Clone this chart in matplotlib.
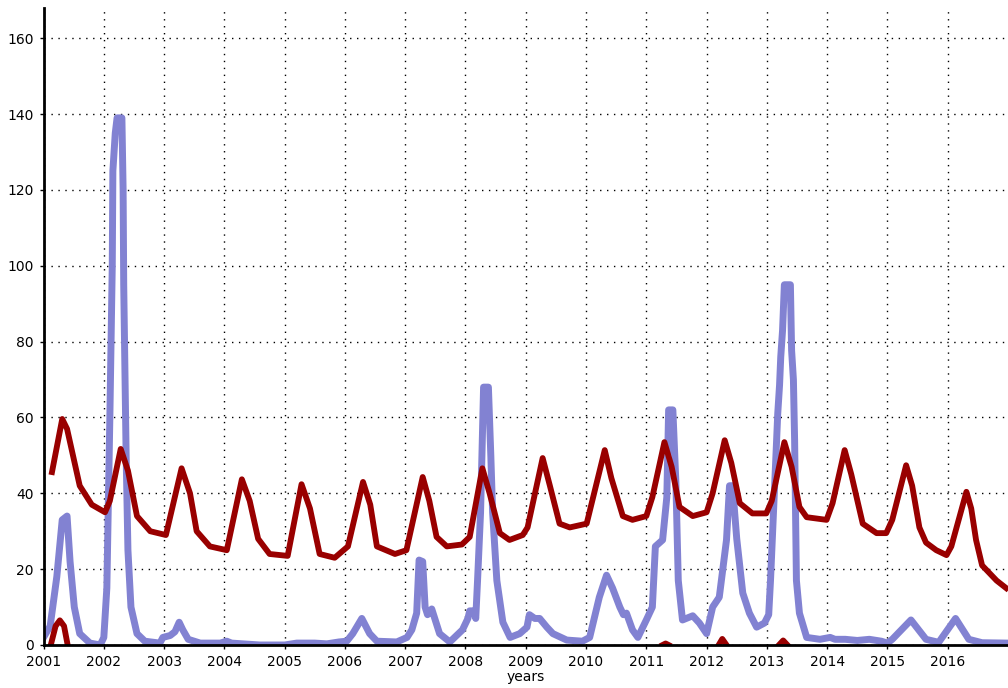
import numpy as np
import matplotlib.pyplot as plt

# blue series (year, value)
blue_x = [2001.0, 2001.11, 2001.22, 2001.31, 2001.39, 2001.44, 2001.51, 2001.6, 2001.77, 2001.94,
          2002.0, 2002.05, 2002.1, 2002.14, 2002.15, 2002.17, 2002.19, 2002.22, 2002.3, 2002.32,
          2002.33, 2002.37, 2002.4, 2002.45, 2002.55, 2002.68, 2002.93, 2002.98, 2003.1, 2003.18,
          2003.25, 2003.31, 2003.4, 2003.6, 2003.93, 2004.04, 2004.12, 2004.59, 2005.0, 2005.2,
          2005.5, 2005.7, 2005.9, 2006.03, 2006.13, 2006.28, 2006.41, 2006.53, 2006.86, 2007.03,
          2007.11, 2007.19, 2007.23, 2007.29, 2007.33, 2007.37, 2007.44, 2007.49, 2007.57, 2007.74,
          2007.95, 2008.04, 2008.07, 2008.14, 2008.17, 2008.2, 2008.25, 2008.28, 2008.3, 2008.38,
          2008.42, 2008.45, 2008.52, 2008.62, 2008.74, 2008.9, 2009.02, 2009.06, 2009.15, 2009.23,
          2009.35, 2009.45, 2009.68, 2009.94, 2010.06, 2010.22, 2010.34, 2010.44, 2010.56, 2010.62,
          2010.67, 2010.77, 2010.86, 2011.0, 2011.1, 2011.15, 2011.27, 2011.34, 2011.37, 2011.44,
          2011.49, 2011.53, 2011.6, 2011.77, 2011.88, 2012.0, 2012.1, 2012.21, 2012.33, 2012.38,
          2012.43, 2012.5, 2012.6, 2012.71, 2012.83, 2012.96, 2013.03, 2013.06, 2013.11, 2013.16,
          2013.18, 2013.21, 2013.23, 2013.26, 2013.28, 2013.29, 2013.39, 2013.41, 2013.44, 2013.46,
          2013.49, 2013.54, 2013.66, 2013.88, 2014.05, 2014.13, 2014.3, 2014.5, 2014.7, 2014.9,
          2015.0, 2015.08, 2015.39, 2015.64, 2015.85, 2016.13, 2016.35, 2016.57, 2017.0]
blue_y = [2, 5, 18, 33, 34, 22, 10, 3, 0.5, 0,
          2, 15, 60, 100, 125, 130, 135, 139, 139, 120,
          95, 50, 25, 10, 3, 1, 0.5, 2, 2.5, 3.5,
          6, 4, 1.5, 0.5, 0.5, 1, 0.5, 0, 0, 0.5,
          0.5, 0.3, 0.8, 1, 3, 7, 3, 1, 0.8, 2,
          4, 8.4, 22.4, 22, 10, 8, 9.5, 7, 3, 0.8,
          4, 7, 9, 9, 7, 17, 35, 55, 68, 68,
          50, 35, 17, 6, 2, 3, 4.7, 8, 7, 7,
          4.7, 3, 1.3, 1, 2, 12.6, 18.4, 15, 10, 8,
          8.4, 4, 2, 6.6, 10, 26, 27.7, 39, 62, 62,
          43, 17, 6.6, 7.7, 5.8, 3, 10, 12.6, 27.7, 42,
          42, 28, 13.7, 8.4, 4.7, 5.8, 8, 17, 35, 53.5,
          61, 68.5, 76, 83, 91, 95, 95, 77.7, 70, 54,
          17, 8.4, 2, 1.5, 2, 1.5, 1.5, 1.2, 1.5, 1,
          0.5, 1.5, 6.6, 1.5, 0.7, 7, 1.5, 0.6, 0.5]

# red series (year, value)
red_x = [2001.14, 2001.31, 2001.39, 2001.6, 2001.8, 2002.02, 2002.1, 2002.28, 2002.4, 2002.55,
         2002.77, 2003.03, 2003.29, 2003.43, 2003.54, 2003.76, 2004.04, 2004.29, 2004.42, 2004.56,
         2004.75, 2005.05, 2005.28, 2005.42, 2005.58, 2005.83, 2006.05, 2006.3, 2006.42, 2006.53,
         2006.83, 2007.02, 2007.29, 2007.4, 2007.52, 2007.69, 2007.94, 2008.07, 2008.28, 2008.4,
         2008.57, 2008.73, 2008.95, 2009.03, 2009.28, 2009.4, 2009.56, 2009.73, 2010.01, 2010.31,
         2010.42, 2010.61, 2010.77, 2011.0, 2011.1, 2011.3, 2011.42, 2011.55, 2011.77, 2012.0,
         2012.1, 2012.3, 2012.41, 2012.55, 2012.76, 2012.99, 2013.08, 2013.29, 2013.41, 2013.54,
         2013.66, 2013.99, 2014.09, 2014.29, 2014.4, 2014.59, 2014.82, 2014.98, 2015.08, 2015.31,
         2015.41, 2015.53, 2015.64, 2015.81, 2015.98, 2016.06, 2016.31, 2016.39, 2016.47, 2016.57,
         2016.81, 2016.97]
red_y = [45.6, 59.6, 57, 42, 37, 35, 38, 51.7, 46, 34,
         30, 29, 46.6, 40, 30, 26, 25, 43.7, 38, 28,
         24, 23.5, 42.4, 36, 24, 23, 26, 43, 37, 26,
         24, 25, 44.3, 38, 28.5, 26, 26.5, 28.5, 46.6, 40,
         29.5, 27.7, 29, 31, 49.3, 42, 32, 31, 32, 51.4,
         44, 34, 33, 34, 39, 53.5, 47, 36.4, 34, 35,
         40, 54, 48, 37.4, 34.7, 34.7, 38, 53.5, 47, 36.4,
         33.7, 33, 37.4, 51.4, 45, 32, 29.5, 29.5, 33, 47.4,
         42, 31, 27, 25, 23.7, 26, 40.4, 36, 27.7, 21,
         17, 15]

# low red pieces near zero (nan separates them)
red_low_x = [2001.12, 2001.2, 2001.27, 2001.34, 2001.4, np.nan,
             2011.27, 2011.32, 2011.37, np.nan,
             2012.2, 2012.26, 2012.33, np.nan,
             2013.2, 2013.27, 2013.34]
red_low_y = [0, 5, 6.5, 5, 0, np.nan,
             0, 0.4, 0, np.nan,
             0, 1.6, 0, np.nan,
             0, 1.2, 0]

years = list(range(2001, 2017))

fig = plt.figure(figsize=(10.08, 6.88), dpi=100)
ax = fig.add_axes([0.0432, 0.0625, 0.9568, 0.926])

ax.plot(blue_x, blue_y, color='#8282d2', lw=5, solid_joinstyle='round')
ax.plot(red_x, red_y, color='#990000', lw=4.2, solid_joinstyle='round')
ax.plot(red_low_x, red_low_y, color='#990000', lw=4.2)

ax.set_xlim(2001, 2017)
ax.set_ylim(0, 168)
ax.set_xticks(years)
ax.set_xticklabels([str(y) for y in years])
ax.set_yticks(range(0, 161, 20))
ax.grid(True, color='black', linestyle=(0, (1, 4)), linewidth=1)
ax.set_axisbelow(True)

for s in ['top', 'right']:
    ax.spines[s].set_visible(False)
ax.spines['left'].set_linewidth(2)
ax.spines['bottom'].set_linewidth(2)
ax.tick_params(labelsize=10, length=3, width=1, pad=2)
ax.tick_params(axis='y', pad=4)
ax.tick_params(axis='x', pad=4)
ax.set_xlabel('years', fontsize=10, labelpad=1)

fig.savefig('out.png', dpi=100)
